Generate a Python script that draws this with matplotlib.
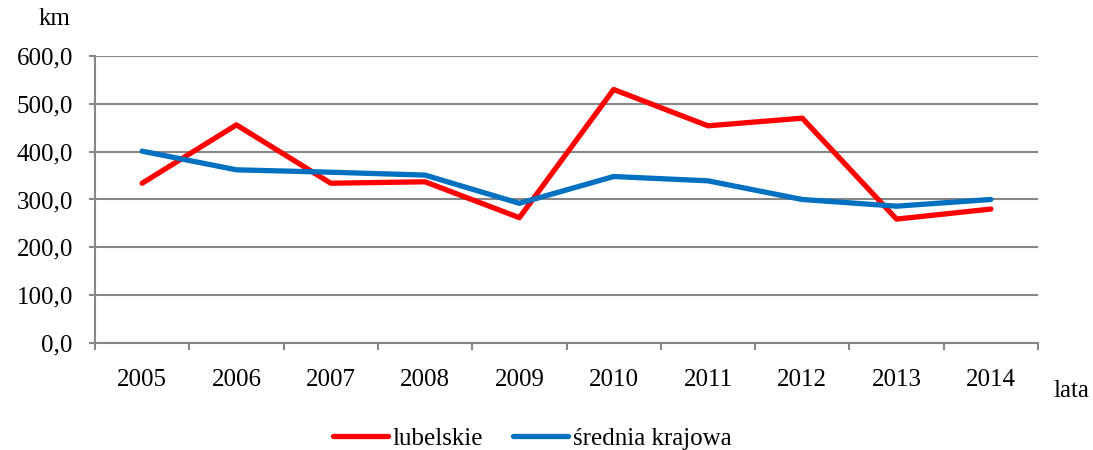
import matplotlib.pyplot as plt
import numpy as np

# values (km)
years = ['2005', '2006', '2007', '2008', '2009', '2010', '2011', '2012', '2013', '2014']
lubelskie = [334, 456, 334, 337, 262, 530, 454, 470, 259, 280]
srednia = [401, 362, 357, 351, 292, 348, 339, 300, 286, 300]

plt.rcParams['font.family'] = ['Liberation Serif', 'DejaVu Serif']
fs = 18

fig = plt.figure(figsize=(10.93, 4.5), dpi=100)
ax = fig.add_axes([0.0869, 0.2378, 0.8628, 0.6378])

x = np.arange(len(years))
ax.plot(x, lubelskie, color='#FF0000', lw=3.8, label='lubelskie', solid_capstyle='round')
ax.plot(x, srednia, color='#0070C0', lw=3.8, label='średnia krajowa', solid_capstyle='round')

ax.set_xlim(-0.5, len(years) - 0.5)
ax.set_ylim(0, 600)
ax.set_yticks(np.arange(0, 601, 100))
ax.set_yticklabels([f'{v:.1f}'.replace('.', ',') for v in range(0, 601, 100)])
ax.set_xticks(x)
ax.set_xticklabels(years)
ax.set_xticks(np.arange(-0.5, len(years)), minor=True)

ax.grid(axis='y', color='#868686', lw=1.5)
ax.set_axisbelow(True)
for s in ['top', 'right']:
    ax.spines[s].set_visible(False)
for s in ['left', 'bottom']:
    ax.spines[s].set_color('#868686')
    ax.spines[s].set_linewidth(1.5)

ax.tick_params(axis='x', which='major', length=0, pad=19, labelsize=fs)
ax.tick_params(axis='x', which='minor', length=5, width=1.5, color='#868686', direction='out')
ax.tick_params(axis='y', length=4, width=1.5, color='#868686', pad=12, labelsize=fs)

fig.text(0.035, 0.957, 'km', fontsize=fs, ha='left', va='center')
fig.text(0.964, 0.132, 'lata', fontsize=fs, ha='left', va='center')

fig.legend(loc='center', bbox_to_anchor=(0.487, 0.025), ncol=2, frameon=False,
           fontsize=fs, handlelength=2.2, handletextpad=0.2, columnspacing=1.2)

fig.savefig('out.png', dpi=100)
